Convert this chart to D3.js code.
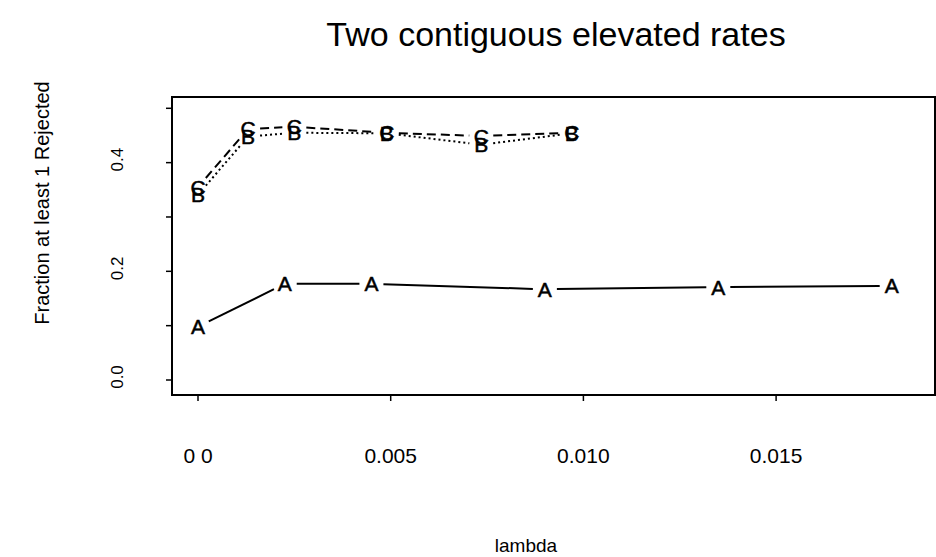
<!DOCTYPE html>
<meta charset="utf-8">
<script src="https://d3js.org/d3.v7.min.js"></script>
<style>
  body { margin: 0; background: #fff; }
  svg text { font-family: "Liberation Sans", Arial, sans-serif; fill: #000; }
</style>
<body>
<svg id="svg" width="936" height="557"></svg>
<script>
// data
var lambdaA = [0, 0.00225, 0.0045, 0.009, 0.0135, 0.018];
var rateA   = [0.098, 0.177, 0.177, 0.167, 0.171, 0.173];
var lambdaBC = [0, 0.0013, 0.0025, 0.0049, 0.00735, 0.0097];
var rateB   = [0.341, 0.448, 0.455, 0.454, 0.433, 0.454];
var rateC   = [0.355, 0.462, 0.466, 0.455, 0.449, 0.455];
var xTicks = [0, 0.005, 0.010, 0.015];
var xTickLabels = ["0 0", "0.005", "0.010", "0.015"];
var yTicks = [0, 0.1, 0.2, 0.3, 0.4, 0.5];
var yTickLabels = {"0": "0.0", "0.2": "0.2", "0.4": "0.4"};

var svg = d3.select("svg");

// plot box
var box = {left: 172, top: 97, right: 935, bottom: 395};

var x = d3.scaleLinear().domain([0, 0.005]).range([198, 390.7]);
var y = d3.scaleLinear().domain([0, 0.5]).range([380, 108.3]);

svg.append("rect")
    .attr("x", box.left).attr("y", box.top)
    .attr("width", box.right - box.left).attr("height", box.bottom - box.top)
    .attr("fill", "none").attr("stroke", "#000").attr("stroke-width", 2);

// x axis ticks
var xAxis = svg.append("g");
xAxis.selectAll("line").data(xTicks).enter().append("line")
    .attr("x1", function(d) { return x(d); }).attr("x2", function(d) { return x(d); })
    .attr("y1", box.bottom).attr("y2", box.bottom + 6)
    .attr("stroke", "#000").attr("stroke-width", 1.5);
xAxis.selectAll("text").data(xTicks).enter().append("text")
    .attr("x", function(d) { return x(d); })
    .attr("y", 455)
    .attr("text-anchor", "middle")
    .attr("dominant-baseline", "central")
    .style("font-size", "21px")
    .text(function(d, i) { return xTickLabels[i]; });

// y axis ticks
var yAxis = svg.append("g");
yAxis.selectAll("line").data(yTicks).enter().append("line")
    .attr("x1", box.left - 6).attr("x2", box.left)
    .attr("y1", function(d) { return y(d); }).attr("y2", function(d) { return y(d); })
    .attr("stroke", "#000").attr("stroke-width", 1.5);
yAxis.selectAll("text").data(yTicks.filter(function(d) { return yTickLabels[String(d)]; }))
    .enter().append("text")
    .attr("transform", function(d) { return "translate(117," + (y(d) - 3) + ") rotate(-90)"; })
    .attr("text-anchor", "middle")
    .attr("dominant-baseline", "central")
    .style("font-size", "17px")
    .text(function(d) { return yTickLabels[String(d)]; });

// titles
svg.append("text")
    .attr("x", 556).attr("y", 46)
    .attr("text-anchor", "middle")
    .style("font-size", "34px")
    .text("Two contiguous elevated rates");
svg.append("text")
    .attr("x", 526).attr("y", 552)
    .attr("text-anchor", "middle")
    .style("font-size", "19px")
    .text("lambda");
svg.append("text")
    .attr("transform", "translate(42,203) rotate(-90)")
    .attr("text-anchor", "middle")
    .attr("dominant-baseline", "central")
    .style("font-size", "20px")
    .text("Fraction at least 1 Rejected");

// series drawn type "b": letters with gapped line segments
function drawSeries(xs, ys, letter, dash) {
    var pts = xs.map(function(d, i) { return [x(d), y(ys[i])]; });
    var gap = 12;
    var segs = [];
    for (var i = 0; i < pts.length - 1; i++) {
        var p = pts[i], q = pts[i + 1];
        var dx = q[0] - p[0], dy = q[1] - p[1];
        var len = Math.sqrt(dx * dx + dy * dy);
        if (len <= 2 * gap) continue;
        var ux = dx / len, uy = dy / len;
        segs.push([p[0] + ux * gap, p[1] + uy * gap, q[0] - ux * gap, q[1] - uy * gap]);
    }
    var g = svg.append("g");
    g.selectAll("line").data(segs).enter().append("line")
        .attr("x1", function(d) { return d[0]; }).attr("y1", function(d) { return d[1]; })
        .attr("x2", function(d) { return d[2]; }).attr("y2", function(d) { return d[3]; })
        .attr("stroke", "#000").attr("stroke-width", 2)
        .attr("stroke-dasharray", dash);
    g.selectAll("text").data(pts).enter().append("text")
        .attr("x", function(d) { return d[0]; })
        .attr("y", function(d) { return d[1]; })
        .attr("text-anchor", "middle")
        .attr("dominant-baseline", "central")
        .style("font-size", "21px")
        .style("stroke", "#000").style("stroke-width", 0.5)
        .text(letter);
}

drawSeries(lambdaA, rateA, "A", null);
drawSeries(lambdaBC, rateC, "C", "9,5");
drawSeries(lambdaBC, rateB, "B", "2,3");
</script>
</body>
